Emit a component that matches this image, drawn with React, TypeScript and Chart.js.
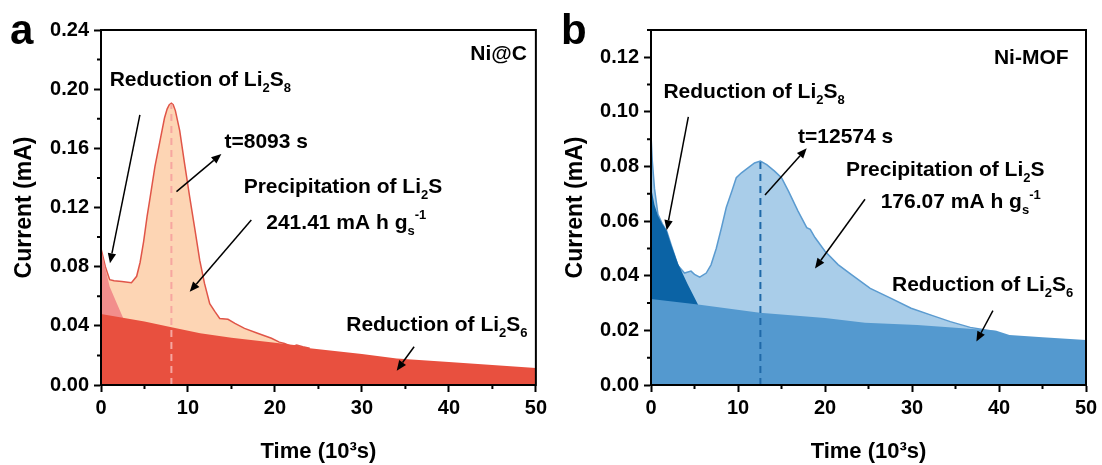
import React, { useEffect, useRef } from "react";
import { Chart, registerables } from "chart.js";

Chart.register(...registerables);

const FAM = '"Liberation Sans", Arial, Helvetica, sans-serif';

// ---------- Panel a : Ni@C ----------
const A_Y_MAX = 0.24;
const A_Y_STEP = 0.04;
const A_Y_MINOR = [0.02, 0.06, 0.1, 0.14, 0.18, 0.22];
const X_MAX = 50;
const X_STEP = 10;
const X_MINOR = [5, 15, 25, 35, 45];

// Reduction of Li2S6 (bottom layer)
const A_S6_T = [0, 5, 8.1, 11.4, 15, 20, 22.2, 24, 30, 34, 40, 45, 50];
const A_S6_I = [0.048, 0.043, 0.039, 0.035, 0.032, 0.0285, 0.027, 0.0248, 0.021, 0.018, 0.0155, 0.0135, 0.0115];
// Reduction of Li2S8
const A_S8_T = [0, 0.5, 1.0, 1.8, 2.6];
const A_S8_I = [0.0924, 0.079, 0.0665, 0.0555, 0.0446];
// Precipitation of Li2S (total current)
const A_PK_T = [0, 0.5, 1.0, 1.5, 2.4, 3.5, 4.1, 4.5, 4.9, 5.3, 5.6, 6.2, 6.8, 7.3, 7.6, 7.85, 8.09, 8.3, 8.55, 9.05, 9.6, 10.2, 10.8, 11.35, 11.9, 12.5, 13.1, 13.65, 14.6, 15.4, 16.5, 18.0, 19.6, 20.5, 21.1, 21.7, 22.2, 22.5, 23.2, 24.0];
const A_PK_I = [0.0924, 0.08, 0.0712, 0.0705, 0.0699, 0.0692, 0.0735, 0.083, 0.097, 0.114, 0.125, 0.1477, 0.1656, 0.1805, 0.1865, 0.1895, 0.1905, 0.1895, 0.1855, 0.172, 0.15, 0.127, 0.105, 0.0844, 0.0687, 0.055, 0.0496, 0.045, 0.0444, 0.0417, 0.0383, 0.035, 0.0316, 0.029, 0.0281, 0.0265, 0.0264, 0.027, 0.0259, 0.0248];
const A_PEAK_T = 8.093;
const A_PEAK_I = 0.19;

// ---------- Panel b : Ni-MOF ----------
const B_Y_MAX = 0.13;
const B_Y_STEP = 0.02;
const B_Y_MINOR = [0.01, 0.03, 0.05, 0.07, 0.09, 0.11, 0.13];

const B_S6_T = [0, 5.4, 12.5, 20, 24.6, 30.6, 35, 39.7, 41.2, 45, 50];
const B_S6_I = [0.0315, 0.0295, 0.0265, 0.0245, 0.0228, 0.022, 0.021, 0.0199, 0.0183, 0.0175, 0.0165];
const B_S8_T = [0, 0.4, 0.8, 1.3, 1.8, 2.3, 3.1, 4.2, 5.4];
const B_S8_I = [0.0725, 0.066, 0.062, 0.059, 0.0565, 0.0515, 0.0445, 0.037, 0.0295];
const B_PK_T = [0, 0.15, 0.4, 0.8, 1.3, 1.8, 2.3, 3.1, 3.85, 4.6, 5.0, 5.6, 6.35, 6.9, 7.5, 8.1, 8.65, 9.3, 9.8, 10.4, 11.15, 11.9, 12.57, 13.3, 14.2, 15.0, 15.8, 16.9, 17.9, 18.3, 18.85, 20.0, 21.5, 23.0, 25.2, 27.6, 29.9, 32.2, 34.4, 36.7, 39.0, 39.7];
const B_PK_I = [0.0915, 0.082, 0.072, 0.0625, 0.059, 0.0565, 0.0515, 0.0438, 0.041, 0.0417, 0.0405, 0.0395, 0.041, 0.044, 0.05, 0.0576, 0.065, 0.071, 0.0759, 0.0777, 0.0795, 0.0813, 0.082, 0.0807, 0.0783, 0.0759, 0.071, 0.0637, 0.0576, 0.057, 0.054, 0.049, 0.0441, 0.0405, 0.0354, 0.0317, 0.0281, 0.0256, 0.0232, 0.0211, 0.0199, 0.0195];
const B_PEAK_T = 12.574;
const B_PEAK_I = 0.082;

type Part = [string, "n" | "sub" | "sup"];
interface TextItem { x: number; y: number; parts: Part[]; align?: "left" | "right" }
interface ArrowItem { x1: number; y1: number; x2: number; y2: number }

const A_TEXTS: TextItem[] = [
  { x: 48.97, y: 0.2197, parts: [["Ni@C", "n"]], align: "right" },
  { x: 1.0, y: 0.2022, parts: [["Reduction of Li", "n"], ["2", "sub"], ["S", "n"], ["8", "sub"]] },
  { x: 14.2, y: 0.16, parts: [["t=8093 s", "n"]] },
  { x: 16.4, y: 0.1295, parts: [["Precipitation of Li", "n"], ["2", "sub"], ["S", "n"]] },
  { x: 19.0, y: 0.1055, parts: [["241.41 mA h g", "n"], ["s", "sub"], ["-1", "sup"]] },
  { x: 28.2, y: 0.0367, parts: [["Reduction of Li", "n"], ["2", "sub"], ["S", "n"], ["6", "sub"]] },
];
const A_ARROWS: ArrowItem[] = [
  { x1: 4.47, y1: 0.1826, x2: 1.03, y2: 0.0823 },
  { x1: 8.68, y1: 0.1307, x2: 13.84, y2: 0.1562 },
  { x1: 17.28, y1: 0.1116, x2: 10.2, y2: 0.063 },
  { x1: 36.0, y1: 0.0259, x2: 34.0, y2: 0.0097 },
];

const B_TEXTS: TextItem[] = [
  { x: 48.0, y: 0.1175, parts: [["Ni-MOF", "n"]], align: "right" },
  { x: 1.43, y: 0.1051, parts: [["Reduction of Li", "n"], ["2", "sub"], ["S", "n"], ["8", "sub"]] },
  { x: 16.9, y: 0.0888, parts: [["t=12574 s", "n"]] },
  { x: 22.4, y: 0.0765, parts: [["Precipitation of Li", "n"], ["2", "sub"], ["S", "n"]] },
  { x: 26.4, y: 0.0648, parts: [["176.07 mA h g", "n"], ["s", "sub"], ["-1", "sup"]] },
  { x: 27.7, y: 0.0345, parts: [["Reduction of Li", "n"], ["2", "sub"], ["S", "n"], ["6", "sub"]] },
];
const B_ARROWS: ArrowItem[] = [
  { x1: 4.29, y1: 0.0982, x2: 1.8, y2: 0.0567 },
  { x1: 13.1, y1: 0.0696, x2: 17.9, y2: 0.0867 },
  { x1: 24.6, y1: 0.068, x2: 18.85, y2: 0.0427 },
  { x1: 39.3, y1: 0.0272, x2: 37.4, y2: 0.0159 },
];

const pts = (t: number[], v: number[]) => t.map((x, i) => ({ x, y: v[i] }));

interface PanelCfg {
  letter: string;
  yMax: number;
  yStep: number;
  yMinor: number[];
  yWidth: number;
  padRight: number;
  layers: { t: number[]; v: number[]; fill: string; border?: string }[];
  dash: { t: number; peak: number; color: string };
  texts: TextItem[];
  arrows: ArrowItem[];
}

function drawRich(ctx: CanvasRenderingContext2D, parts: Part[], x: number, y: number, align: string, size: number) {
  const fN = `bold ${size}px ${FAM}`;
  const fS = `bold ${Math.round(size * 0.64)}px ${FAM}`;
  let w = 0;
  for (const [t, k] of parts) {
    ctx.font = k === "n" ? fN : fS;
    w += ctx.measureText(t).width;
  }
  let cx = align === "right" ? x - w : x;
  ctx.textBaseline = "alphabetic";
  ctx.textAlign = "left";
  for (const [t, k] of parts) {
    ctx.font = k === "n" ? fN : fS;
    const dy = k === "sub" ? size * 0.28 : k === "sup" ? -size * 0.45 : 0;
    ctx.fillText(t, cx, y + dy);
    cx += ctx.measureText(t).width;
  }
}

function drawArrow(ctx: CanvasRenderingContext2D, x1: number, y1: number, x2: number, y2: number) {
  const ang = Math.atan2(y2 - y1, x2 - x1);
  const hl = 10, hw = 4.2;
  const bx = x2 - hl * Math.cos(ang), by = y2 - hl * Math.sin(ang);
  ctx.beginPath();
  ctx.moveTo(x1, y1);
  ctx.lineTo(bx, by);
  ctx.lineWidth = 1.5;
  ctx.strokeStyle = "#000";
  ctx.stroke();
  ctx.beginPath();
  ctx.moveTo(x2, y2);
  ctx.lineTo(bx + hw * Math.sin(ang), by - hw * Math.cos(ang));
  ctx.lineTo(bx - hw * Math.sin(ang), by + hw * Math.cos(ang));
  ctx.closePath();
  ctx.fillStyle = "#000";
  ctx.fill();
}

function makeChart(canvas: HTMLCanvasElement, cfg: PanelCfg) {
  const datasets: any[] = [];
  datasets.push({
    data: [{ x: cfg.dash.t, y: 0 }, { x: cfg.dash.t, y: cfg.dash.peak }],
    borderColor: cfg.dash.color,
    borderWidth: 2,
    borderDash: [7, 5],
    pointRadius: 0,
    fill: false,
    order: 0,
  });
  cfg.layers.forEach((l, i) => {
    datasets.push({
      data: pts(l.t, l.v),
      backgroundColor: l.fill,
      borderColor: l.border || l.fill,
      borderWidth: l.border ? 1.5 : 0,
      pointRadius: 0,
      fill: "origin",
      tension: 0,
      order: i + 1,
    });
  });

  const deco = {
    id: "deco",
    afterDraw(chart: any) {
      const { ctx, chartArea: ca, scales } = chart;
      const xs = scales.x, ys = scales.y;
      ctx.save();
      ctx.strokeStyle = "#000";
      ctx.lineWidth = 2;
      ctx.beginPath();
      for (const v of X_MINOR) {
        const px = xs.getPixelForValue(v);
        ctx.moveTo(px, ca.bottom);
        ctx.lineTo(px, ca.bottom + 4);
      }
      for (const v of cfg.yMinor) {
        const py = ys.getPixelForValue(v);
        ctx.moveTo(ca.left - 4, py);
        ctx.lineTo(ca.left, py);
      }
      ctx.stroke();
      ctx.strokeRect(ca.left, ca.top, ca.right - ca.left, ca.bottom - ca.top);
      for (const a of cfg.arrows) {
        drawArrow(ctx, xs.getPixelForValue(a.x1), ys.getPixelForValue(a.y1), xs.getPixelForValue(a.x2), ys.getPixelForValue(a.y2));
      }
      ctx.fillStyle = "#000";
      for (const t of cfg.texts) {
        drawRich(ctx, t.parts, xs.getPixelForValue(t.x), ys.getPixelForValue(t.y), t.align || "left", 21);
      }
      ctx.font = `bold 42px ${FAM}`;
      ctx.textAlign = "left";
      ctx.textBaseline = "alphabetic";
      ctx.fillText(cfg.letter, 10, 44);
      ctx.restore();
    },
  };

  return new Chart(canvas, {
    type: "line",
    data: { datasets },
    options: {
      animation: false,
      responsive: false,
      events: [],
      layout: { padding: { left: 0, right: cfg.padRight, top: 30, bottom: 0 } },
      plugins: { legend: { display: false }, tooltip: { enabled: false } },
      scales: {
        x: {
          type: "linear",
          min: 0,
          max: X_MAX,
          afterFit: (s: any) => { s.height = 80; },
          grid: { display: true, drawOnChartArea: false, drawTicks: true, tickLength: 7, tickWidth: 2, tickColor: "#000" },
          border: { display: true, width: 2, color: "#000" },
          ticks: {
            stepSize: X_STEP,
            includeBounds: false,
            autoSkip: false,
            maxRotation: 0,
            padding: 4,
            color: "#000",
            font: { family: FAM, size: 20, weight: "bold" },
          },
          title: {
            display: true,
            text: "Time (10³s)",
            color: "#000",
            font: { family: FAM, size: 22, weight: "bold" },
            padding: { top: 0, bottom: 0 },
          },
        },
        y: {
          type: "linear",
          min: 0,
          max: cfg.yMax,
          afterFit: (s: any) => { s.width = cfg.yWidth; },
          grid: { display: true, drawOnChartArea: false, drawTicks: true, tickLength: 7, tickWidth: 2, tickColor: "#000" },
          border: { display: true, width: 2, color: "#000" },
          ticks: {
            stepSize: cfg.yStep,
            includeBounds: false,
            padding: 5,
            color: "#000",
            font: { family: FAM, size: 20, weight: "bold" },
            callback: (v: any) => Number(v).toFixed(2),
          },
          title: {
            display: true,
            text: "Current (mA)",
            color: "#000",
            font: { family: FAM, size: 23, weight: "bold" },
            padding: { top: 11, bottom: 0 },
          },
        },
      },
    } as any,
    plugins: [deco],
  });
}

const PANEL_A: PanelCfg = {
  letter: "a",
  yMax: A_Y_MAX,
  yStep: A_Y_STEP,
  yMinor: A_Y_MINOR,
  yWidth: 101,
  padRight: 14,
  layers: [
    { t: A_S6_T, v: A_S6_I, fill: "#e8503f" },
    { t: A_S8_T, v: A_S8_I, fill: "#f28e8c" },
    { t: A_PK_T, v: A_PK_I, fill: "#fdd5b4", border: "#e05548" },
  ],
  dash: { t: A_PEAK_T, peak: A_PEAK_I, color: "#f6a6a0" },
  texts: A_TEXTS,
  arrows: A_ARROWS,
};

const PANEL_B: PanelCfg = {
  letter: "b",
  yMax: B_Y_MAX,
  yStep: B_Y_STEP,
  yMinor: B_Y_MINOR,
  yWidth: 100,
  padRight: 16,
  layers: [
    { t: B_S6_T, v: B_S6_I, fill: "#5499cf" },
    { t: B_S8_T, v: B_S8_I, fill: "#0b63a5" },
    { t: B_PK_T, v: B_PK_I, fill: "#a9cde9", border: "#5b9bd0" },
  ],
  dash: { t: B_PEAK_T, peak: B_PEAK_I, color: "#1f69a8" },
  texts: B_TEXTS,
  arrows: B_ARROWS,
};

function Panel({ cfg }: { cfg: PanelCfg }) {
  const ref = useRef<HTMLCanvasElement>(null);
  useEffect(() => {
    if (!ref.current) return;
    const ch = makeChart(ref.current, cfg);
    return () => ch.destroy();
  }, [cfg]);
  return <canvas ref={ref} width={551} height={465} style={{ display: "block", width: 551, height: 465 }} />;
}

export default function App() {
  return (
    <div style={{ position: "fixed", left: 0, top: 0, width: 1102, height: 465, background: "#fff", display: "flex" }}>
      <Panel cfg={PANEL_A} />
      <Panel cfg={PANEL_B} />
    </div>
  );
}
